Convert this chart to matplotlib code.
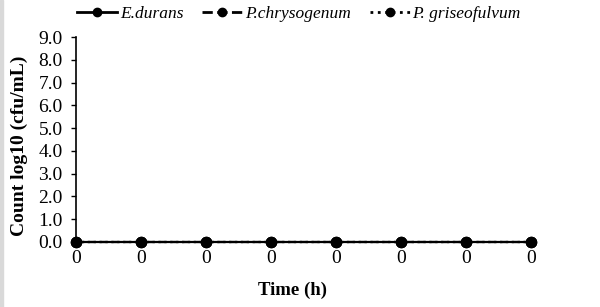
import matplotlib.pyplot as plt
from matplotlib.patches import Rectangle

plt.rcParams['font.family'] = ['Liberation Serif', 'DejaVu Serif']

time_labels = ['0', '0', '0', '0', '0', '0', '0', '0']
e_durans = [0, 0, 0, 0, 0, 0, 0, 0]
p_chrysogenum = [0, 0, 0, 0, 0, 0, 0, 0]
p_griseofulvum = [0, 0, 0, 0, 0, 0, 0, 0]
series_names = ['E.durans', 'P.chrysogenum', 'P. griseofulvum']
y_ticks = [0, 1, 2, 3, 4, 5, 6, 7, 8, 9]

fig = plt.figure(figsize=(6.0, 3.07), dpi=100)
ax = fig.add_axes([76 / 600, 1 - 242 / 307, (531 - 76) / 600, (242 - 37) / 307])

# grey strip on the left edge of the picture
fig.patches.append(Rectangle((0, 0), 3 / 600, 1, transform=fig.transFigure,
                             color='#d9d9d9', zorder=0))

x = list(range(len(time_labels)))
styles = ['-', '--', ':']
handles = []
for vals, ls, name in zip([e_durans, p_chrysogenum, p_griseofulvum][::-1], styles[::-1], series_names[::-1]):
    h, = ax.plot(x, vals, linestyle=ls, color='black', linewidth=1.6,
                 marker='o', markersize=7.2, clip_on=False, label=name, zorder=3)
    handles.append(h)
handles = handles[::-1]

ax.set_xlim(0, len(x) - 1)
ax.set_ylim(0, 9)
ax.set_yticks(y_ticks)
ax.set_yticklabels([f'{v:.1f}' for v in y_ticks], fontsize=14)
ax.set_xticks(x)
ax.set_xticklabels(time_labels, fontsize=14)
ax.tick_params(axis='x', length=0, pad=6)
ax.tick_params(axis='y', length=3.5, width=1, pad=6, direction='out')

for s in ['top', 'right', 'bottom']:
    ax.spines[s].set_visible(False)
ax.spines['left'].set_linewidth(1.2)

ax.set_ylabel('Count log10 (cfu/mL)', fontsize=14, fontweight='bold')
ax.yaxis.set_label_coords(-48 / 455, 0.47)
fig.text(292 / 600, 1 - 290 / 307, 'Time (h)', fontsize=13.5, fontweight='bold',
         ha='center', va='center')

leg = fig.legend(handles=handles, labels=series_names, loc='center',
                 bbox_to_anchor=(299 / 600, 1 - 14 / 307), ncol=3, frameon=False,
                 handlelength=2.3, handletextpad=0.15, columnspacing=1.1,
                 prop={'style': 'italic', 'size': 12.5})
for h in leg.legend_handles:
    h.set_markersize(6)
    h.set_linewidth(2)

fig.savefig('out.png', dpi=100)
